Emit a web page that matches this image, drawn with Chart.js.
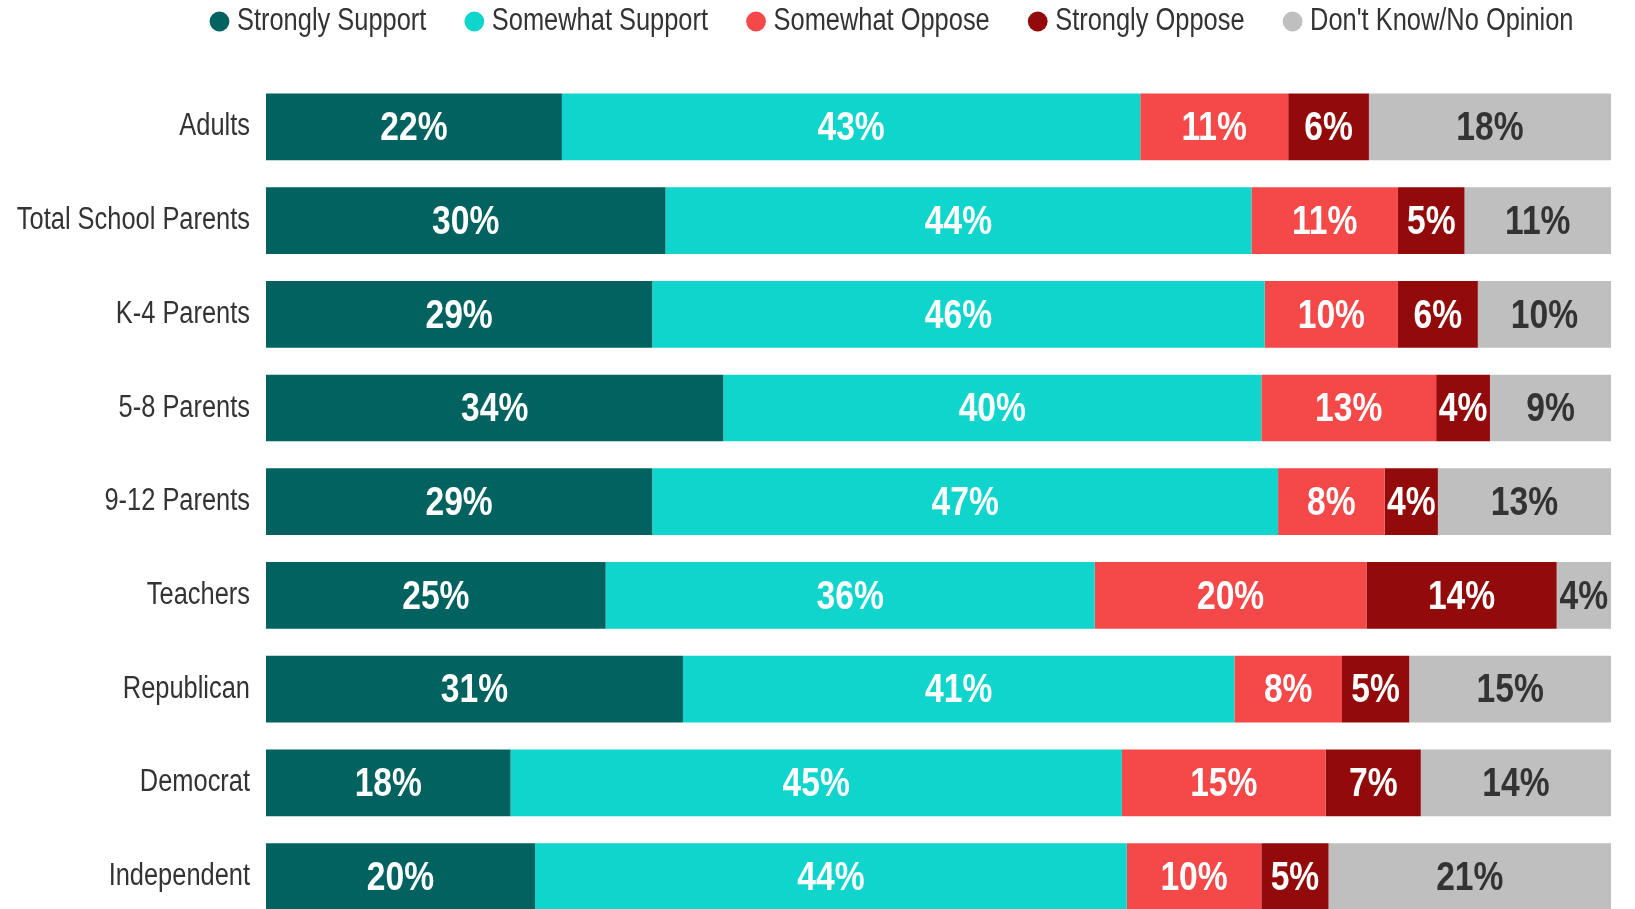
<!DOCTYPE html>
<html>
<head>
<meta charset="utf-8">
<script src="https://cdn.jsdelivr.net/npm/chart.js@4"></script>
<style>
  html, body { margin: 0; padding: 0; background: #fff; overflow: hidden; }
  canvas { display: block; }
</style>
</head>
<body>
<canvas id="myChart" width="1635" height="958"></canvas>
<script>
const groups = ['Adults', 'Total School Parents', 'K-4 Parents', '5-8 Parents', '9-12 Parents',
    'Teachers', 'Republican', 'Democrat', 'Independent'];

const seriesNames = ['Strongly Support', 'Somewhat Support', 'Somewhat Oppose', 'Strongly Oppose', "Don't Know/No Opinion"];

const stronglySupport = [22, 30, 29, 34, 29, 25, 31, 18, 20];
const somewhatSupport = [43, 44, 46, 40, 47, 36, 41, 45, 44];
const somewhatOppose = [11, 11, 10, 13, 8, 20, 8, 15, 10];
const stronglyOppose = [6, 5, 6, 4, 4, 14, 5, 7, 5];
const dontKnow = [18, 11, 10, 9, 13, 4, 15, 14, 21];

const colors = ['#02625f', '#10d5cc', '#f54848', '#930a0a', '#bfbfbf'];
const labelColors = ['#ffffff', '#ffffff', '#ffffff', '#ffffff', '#333333'];

const FONT = '"Liberation Sans", Arial, sans-serif';
const NARROW = 0.82; // no Arial Narrow here, so squeeze Arial sideways

// each row is drawn as a 100% stacked bar, labels keep the survey values
const allSeries = [stronglySupport, somewhatSupport, somewhatOppose, stronglyOppose, dontKnow];
const rowTotals = groups.map((g, i) => allSeries.reduce((s, arr) => s + arr[i], 0));

const datasets = allSeries.map((arr, k) => ({
    label: seriesNames[k],
    data: arr.map((v, i) => v / rowTotals[i] * 100),
    raw: arr,
    backgroundColor: colors[k],
    borderWidth: 0,
    barPercentage: 1,
    categoryPercentage: 0.712
}));

const canvas = document.getElementById('myChart');
const ctx = canvas.getContext('2d');
const origFill = ctx.fillText;
const origMeasure = ctx.measureText;
ctx.fillText = function (t, x, y, mw) {
    this.save();
    this.translate(x, y);
    this.scale(NARROW, 1);
    if (mw === undefined) origFill.call(this, t, 0, 0);
    else origFill.call(this, t, 0, 0, mw / NARROW);
    this.restore();
};
ctx.measureText = function (t) {
    const m = origMeasure.call(this, t);
    return {
        width: m.width * NARROW,
        actualBoundingBoxAscent: m.actualBoundingBoxAscent,
        actualBoundingBoxDescent: m.actualBoundingBoxDescent
    };
};

// bar value labels
const barLabels = {
    id: 'barLabels',
    afterDatasetsDraw(chart) {
        const c = chart.ctx;
        c.save();
        c.font = 'bold 41px ' + FONT;
        c.textAlign = 'center';
        c.textBaseline = 'middle';
        chart.data.datasets.forEach((ds, k) => {
            chart.getDatasetMeta(k).data.forEach((bar, i) => {
                const cx = (bar.x + bar.base) / 2;
                c.fillStyle = labelColors[k];
                c.fillText(ds.raw[i] + '%', cx, bar.y + 2);
            });
        });
        c.restore();
    }
};

// legend sits higher and a bit right of centre
const legendTweak = {
    id: 'legendTweak',
    beforeInit(chart) {
        const lg = chart.legend;
        const fit = lg.fit;
        lg.fit = function () {
            fit.call(this);
            this.height = 80;
        };
    },
    afterLayout(chart) {
        const lg = chart.legend;
        lg.left += 90;
        lg.right += 90;
        lg.top -= 40;
        lg.bottom -= 40;
    }
};

new Chart(canvas, {
    type: 'bar',
    data: {
        labels: groups,
        datasets: datasets
    },
    options: {
        indexAxis: 'y',
        responsive: false,
        animation: false,
        layout: {
            padding: { left: 0, right: 24, top: 0, bottom: 0 }
        },
        plugins: {
            legend: {
                display: true,
                position: 'top',
                labels: {
                    usePointStyle: true,
                    pointStyle: 'circle',
                    boxWidth: 4,
                    boxHeight: 14,
                    padding: 46,
                    color: '#333333',
                    font: { family: FONT, size: 31 }
                }
            },
            tooltip: { enabled: false }
        },
        scales: {
            x: {
                stacked: true,
                display: false,
                min: 0,
                max: 100
            },
            y: {
                stacked: true,
                grid: { display: false, drawTicks: false },
                border: { display: false },
                afterFit(axis) { axis.width = 266; },
                ticks: {
                    padding: 16,
                    color: '#333333',
                    font: { family: FONT, size: 31 }
                }
            }
        }
    },
    plugins: [barLabels, legendTweak]
});
</script>
</body>
</html>
